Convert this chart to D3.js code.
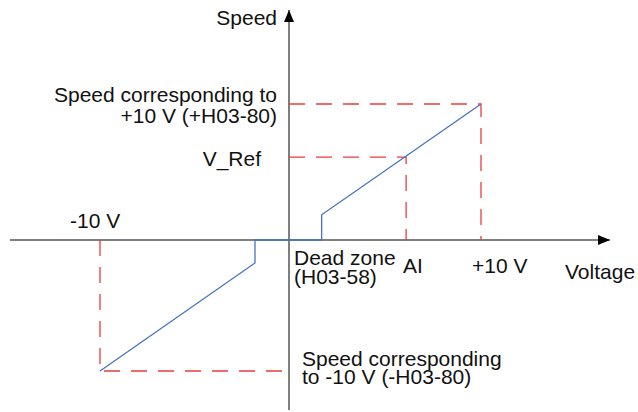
<!DOCTYPE html>
<html>
<head>
<meta charset="utf-8">
<script src="https://cdn.jsdelivr.net/npm/d3@7"></script>
<style>
  html, body { margin: 0; padding: 0; background: #fff; }
  svg text { font-family: "Liberation Sans", Arial, sans-serif; font-size: 21px; fill: #111; }
</style>
</head>
<body>
<svg id="chart" width="638" height="412"></svg>
<script>
// Analog speed reference: voltage input (V) vs. speed command (% of H03-80)
const curveVoltage = [-10, -1.8, -1.8, 1.7, 1.7, 10];
const curveSpeed   = [-100, -17.5, 0, 0, 18.5, 100];
const fullScaleVoltage = [-10, 10];
const fullScaleSpeed   = [-100, 100];
const aiVoltage = 6.1;
const vRefSpeed = 61;

const svg = d3.select("#chart");

// piecewise scales so the origin sits where the axes cross
const x = d3.scaleLinear().domain([-10, 0, 10]).range([100, 289, 481]);
const y = d3.scaleLinear().domain([-100, 0, 100]).range([371, 240, 104]);

const axisColor = "#7f7f7f";
const dashColor = "#ee3b3b";
const lineColor = "#4472c4";

// arrowhead marker
const defs = svg.append("defs");
defs.append("marker")
  .attr("id", "arrow")
  .attr("viewBox", "0 0 12 10")
  .attr("refX", 12).attr("refY", 5)
  .attr("markerWidth", 12).attr("markerHeight", 10)
  .attr("markerUnits", "userSpaceOnUse")
  .attr("orient", "auto")
  .append("path").attr("d", "M0,0 L12,5 L0,10 Z").attr("fill", "#000");

// axes
svg.append("line")
  .attr("x1", 10).attr("x2", 610)
  .attr("y1", y(0)).attr("y2", y(0))
  .attr("stroke", axisColor).attr("stroke-width", 2)
  .attr("marker-end", "url(#arrow)");
svg.append("line")
  .attr("x1", x(0)).attr("x2", x(0))
  .attr("y1", 410).attr("y2", 10)
  .attr("stroke", axisColor).attr("stroke-width", 2)
  .attr("marker-end", "url(#arrow)");

// red dashed guides
const guides = [
  [[0, fullScaleSpeed[1]], [fullScaleVoltage[1], fullScaleSpeed[1]], [fullScaleVoltage[1], 0]],
  [[0, vRefSpeed], [aiVoltage, vRefSpeed], [aiVoltage, 0]],
  [[fullScaleVoltage[0], 0], [fullScaleVoltage[0], fullScaleSpeed[0]], [0, fullScaleSpeed[0]]]
];
const gLine = d3.line().x(d => x(d[0])).y(d => y(d[1]));
svg.append("g").selectAll("path").data(guides).join("path")
  .attr("d", gLine)
  .attr("fill", "none")
  .attr("stroke", dashColor)
  .attr("stroke-width", 1.3)
  .attr("stroke-dasharray", "16,11");

// characteristic curve
const pts = curveVoltage.map((v, i) => [v, curveSpeed[i]]);
svg.append("path")
  .attr("d", gLine(pts))
  .attr("fill", "none")
  .attr("stroke", lineColor)
  .attr("stroke-width", 1.3);

// labels
function label(tx, ty, lines, anchor, lh) {
  const t = svg.append("text").attr("x", tx).attr("y", ty).attr("text-anchor", anchor || "start");
  lines.forEach((s, i) => t.append("tspan").attr("x", tx).attr("dy", i ? lh : 0).text(s));
}
label(x(0) - 12, 25, ["Speed"], "end");
label(x(0) - 12, 102, ["Speed corresponding to", "+10 V (+H03-80)"], "end", 21);
label(x(0) - 28, 166, ["V_Ref"], "end");
label(x(-10) - 30, 228, ["-10 V"], "start");
label(x(0) + 5, 265, ["Dead zone", "(H03-58)"], "start", 19);
label(x(aiVoltage) - 3, 273, ["AI"], "start");
label(x(10) - 9, 273, ["+10 V"], "start");
label(565, 279, ["Voltage"], "start");
label(x(0) + 13, 366, ["Speed corresponding", "to -10 V (-H03-80)"], "start", 18);
</script>
</body>
</html>
